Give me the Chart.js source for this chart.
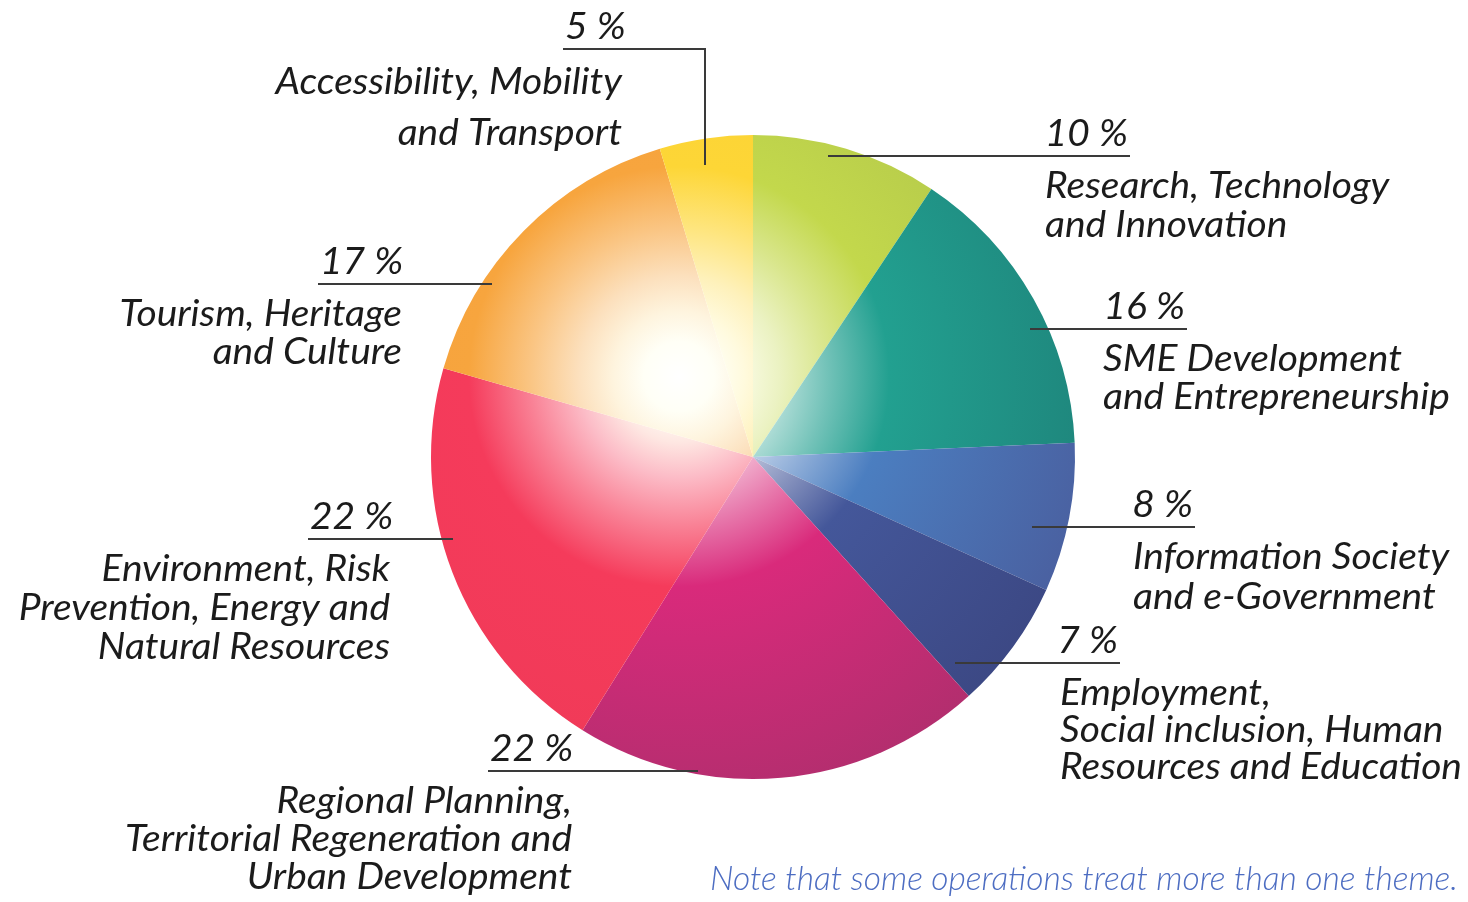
<!DOCTYPE html>
<html>
<head>
<meta charset="utf-8">
<script src="https://cdn.jsdelivr.net/npm/chart.js@4.4.0/dist/chart.umd.min.js"></script>
<style>
  html, body { margin: 0; padding: 0; background: #ffffff; }
  #wrap { width: 1468px; height: 902px; position: relative; }
  canvas { display: block; }
</style>
</head>
<body>
<div id="wrap"><canvas id="c" width="1468" height="902"></canvas></div>
<script>
// ---------- data ----------
const categories = [
  'Research, Technology and Innovation',
  'SME Development and Entrepreneurship',
  'Information Society and e-Government',
  'Employment, Social inclusion, Human Resources and Education',
  'Regional Planning, Territorial Regeneration and Urban Development',
  'Environment, Risk Prevention, Energy and Natural Resources',
  'Tourism, Heritage and Culture',
  'Accessibility, Mobility and Transport'
];
const shares = [10, 16, 8, 7, 22, 22, 17, 5];
const pctLabels = ['10 %', '16 %', '8 %', '7 %', '22 %', '22 %', '17 %', '5 %'];
const labelLines = [
  ['Research, Technology', 'and Innovation'],
  ['SME Development', 'and Entrepreneurship'],
  ['Information Society', 'and e-Government'],
  ['Employment,', 'Social inclusion, Human', 'Resources and Education'],
  ['Regional Planning,', 'Territorial Regeneration and', 'Urban Development'],
  ['Environment, Risk', 'Prevention, Energy and', 'Natural Resources'],
  ['Tourism, Heritage', 'and Culture'],
  ['Accessibility, Mobility', 'and Transport']
];
const noteText = 'Note that some operations treat more than one theme.';

// ---------- styling / layout (not data) ----------
const baseColors = ['#c3d84c', '#22a090', '#4b7ec0', '#44579a', '#d92a7b', '#f53b5b', '#f7a53e', '#fdd636'];
const edgeColors = ['#adc24a', '#1e837a', '#4a5f9f', '#3c4884', '#b22e6e', '#ef3a57', '#f39d3b', '#f9cf37'];
const layout = [
  { side: 'R', y: 156, inner: 828,  outer: 1130, tx: 1045, gap: 39 },
  { side: 'R', y: 329, inner: 1030, outer: 1187, tx: 1103, gap: 38 },
  { side: 'R', y: 527, inner: 1032, outer: 1195, tx: 1133, gap: 40 },
  { side: 'R', y: 663, inner: 955,  outer: 1120, tx: 1060, gap: 37 },
  { side: 'L', y: 771, inner: 698,  outer: 488,  tx: 572,  gap: 38 },
  { side: 'L', y: 539, inner: 453,  outer: 308,  tx: 390,  gap: 39 },
  { side: 'L', y: 284, inner: 492,  outer: 318,  tx: 402,  gap: 38 },
  { side: 'L', y: 49,  inner: 705,  outer: 563,  tx: 622,  gap: 51, drop: 165 }
];

const FONT = 'italic 400 36px Lato, "Open Sans", sans-serif';
let SX = 1;

function mix(c1, c2, t) {
  const a = parseInt(c1.slice(1), 16), b = parseInt(c2.slice(1), 16);
  const r = Math.round(((a >> 16) & 255) * (1 - t) + ((b >> 16) & 255) * t);
  const gg = Math.round(((a >> 8) & 255) * (1 - t) + ((b >> 8) & 255) * t);
  const bl = Math.round((a & 255) * (1 - t) + (b & 255) * t);
  return 'rgb(' + r + ',' + gg + ',' + bl + ')';
}

function sliceGradient(context) {
  const chart = context.chart;
  const ca = chart.chartArea;
  const i = context.dataIndex;
  if (!ca) return baseColors[i];
  const cx = (ca.left + ca.right) / 2, cy = (ca.top + ca.bottom) / 2;
  const R = Math.min(ca.right - ca.left, ca.bottom - ca.top) / 2;
  const hx = cx - 0.23 * R, hy = cy - 0.25 * R;
  const g = chart.ctx.createRadialGradient(hx, hy, 0, hx, hy, R * 1.36);
  g.addColorStop(0, '#ffffff');
  g.addColorStop(0.08, '#fffff6');
  g.addColorStop(0.15, mix(baseColors[i], '#fffff4', 0.88));
  g.addColorStop(0.23, mix(baseColors[i], '#ffffff', 0.66));
  g.addColorStop(0.34, mix(baseColors[i], '#ffffff', 0.36));
  g.addColorStop(0.48, baseColors[i]);
  g.addColorStop(1, edgeColors[i]);
  return g;
}

function drawText(ctx, txt, x, y, align) {
  ctx.save();
  ctx.translate(x, y);
  ctx.scale(SX, 1);
  ctx.textAlign = align;
  ctx.fillText(txt, 0, 0);
  ctx.restore();
}

const labelPlugin = {
  id: 'leaderLabels',
  afterDraw(chart) {
    const ctx = chart.ctx;
    ctx.save();
    ctx.font = FONT;
    SX = 402 / ctx.measureText('Resources and Education').width;
    ctx.fillStyle = '#1b1b1b';
    ctx.textBaseline = 'alphabetic';
    const meta = chart.getDatasetMeta(0);
    meta.data.forEach((arc, i) => {
      const L = layout[i];
      ctx.strokeStyle = '#3a3a3a';
      ctx.lineWidth = 2;
      ctx.beginPath();
      ctx.moveTo(L.outer, L.y);
      ctx.lineTo(L.inner, L.y);
      if (L.drop) ctx.lineTo(L.inner, L.drop);
      ctx.stroke();
      ctx.font = FONT;
      drawText(ctx, pctLabels[i], L.side === 'R' ? L.outer - 2 : L.outer + 2, L.y - 10, L.side === 'R' ? 'right' : 'left');
      labelLines[i].forEach((ln, k) => {
        drawText(ctx, ln, L.tx, L.y + 42 + k * L.gap + (L.drop ? 3 : 0), L.side === 'R' ? 'left' : 'right');
      });
    });
    ctx.font = 'italic 300 34px Lato, "Open Sans", sans-serif';
    ctx.fillStyle = '#4d6dc2';
    const w = ctx.measureText(noteText).width;
    ctx.save();
    ctx.translate(1458, 890);
    ctx.scale(748 / w, 1);
    ctx.textAlign = 'right';
    ctx.fillText(noteText, 0, 0);
    ctx.restore();
    ctx.restore();
  }
};

new Chart(document.getElementById('c'), {
  type: 'pie',
  data: {
    labels: categories,
    datasets: [{
      data: shares,
      backgroundColor: sliceGradient,
      borderWidth: 0,
      hoverOffset: 0
    }]
  },
  options: {
    responsive: false,
    animation: false,
    devicePixelRatio: 1,
    rotation: 0,
    layout: { padding: { left: 431, right: 393, top: 135, bottom: 123 } },
    plugins: {
      legend: { display: false },
      tooltip: { enabled: false },
      title: { display: false }
    },
    events: []
  },
  plugins: [labelPlugin]
});
</script>
</body>
</html>
